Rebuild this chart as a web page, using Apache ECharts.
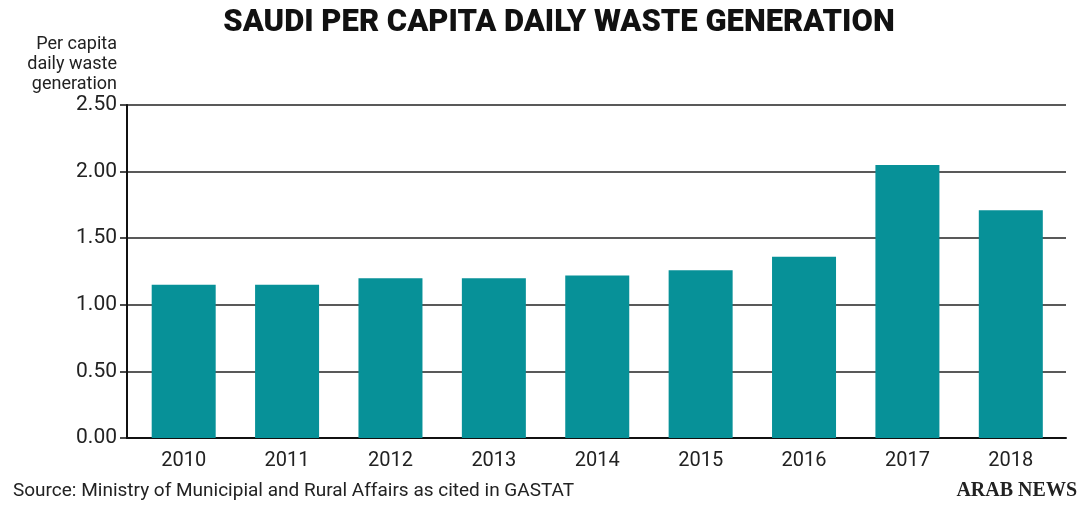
<!DOCTYPE html>
<html><head><meta charset="utf-8">
<script src="https://cdn.jsdelivr.net/npm/echarts@6/dist/echarts.min.js"></script>
<style>html,body{margin:0;padding:0;background:#fff}#c{width:1080px;height:505px}</style>
</head><body><div id="c"></div>
<script>
const years = ['2010','2011','2012','2013','2014','2015','2016','2017','2018'];
const wastePerCapita = [1.15, 1.15, 1.20, 1.20, 1.22, 1.26, 1.36, 2.05, 1.71];
const yTicks = [0, 0.5, 1.0, 1.5, 2.0, 2.5];

const chart = echarts.init(document.getElementById('c'));
const F = 'Roboto, "Liberation Sans", sans-serif';
const yMin = yTicks[0], yMax = yTicks[yTicks.length-1];
chart.setOption({
  animation: false,
  backgroundColor: '#fff',
  graphic: [{
    type: 'text', x: 559, y: 23,
    style: {text: 'SAUDI PER CAPITA DAILY WASTE GENERATION', align: 'center', verticalAlign: 'middle',
      font: '900 31px Roboto, "Liberation Sans", sans-serif', fill: '#111'}
  }, {
    type: 'text', x: 117, y: 34,
    style: {text: 'Per capita\ndaily waste\ngeneration', align: 'right', verticalAlign: 'top',
      font: '400 18px Roboto, "Liberation Sans", sans-serif', lineHeight: 20, fill: '#222'}
  }, {
    type: 'text', x: 13, y: 491,
    style: {text: 'Source: Ministry of Municipial and Rural Affairs as cited in GASTAT', align: 'left', verticalAlign: 'middle',
      font: '400 19px Roboto, "Liberation Sans", sans-serif', fill: '#222'}
  }, {
    type: 'text', x: 1077, y: 491,
    style: {text: 'ARAB NEWS', align: 'right', verticalAlign: 'middle',
      font: 'bold 20px "Liberation Serif", "DejaVu Serif", serif', fill: '#222'}
  }],
  grid: [
    {left: 127, right: 14, top: 105, bottom: 67},
    {left: 132, right: 17.5, top: 105, bottom: 67}
  ],
  xAxis: [{
    type: 'category', data: years, gridIndex: 0,
    axisLine: {show: true, lineStyle: {color: '#111', width: 2}},
    axisTick: {show: false},
    axisLabel: {show: false}
  }, {
    type: 'category', data: years, gridIndex: 1,
    axisLine: {show: false},
    axisTick: {show: false},
    axisLabel: {fontFamily: F, fontSize: 20, color: '#222', margin: 13}
  }],
  yAxis: [{
    type: 'value', min: yMin, max: yMax, interval: 0.5, gridIndex: 0,
    axisLine: {show: true, lineStyle: {color: '#111', width: 2}},
    axisTick: {show: true, length: 7, lineStyle: {color: '#111', width: 1.5}},
    splitLine: {show: true, lineStyle: {color: '#222', width: 1.5}},
    axisLabel: {fontFamily: F, fontSize: 21, color: '#222', margin: 10,
      formatter: v => v.toFixed(2)}
  }, {
    type: 'value', min: yMin, max: yMax, interval: 0.5, gridIndex: 1, show: false
  }],
  series: [{
    type: 'bar', data: wastePerCapita, barWidth: 64, xAxisIndex: 1, yAxisIndex: 1,
    itemStyle: {color: '#079198'}
  }]
});
</script></body></html>
